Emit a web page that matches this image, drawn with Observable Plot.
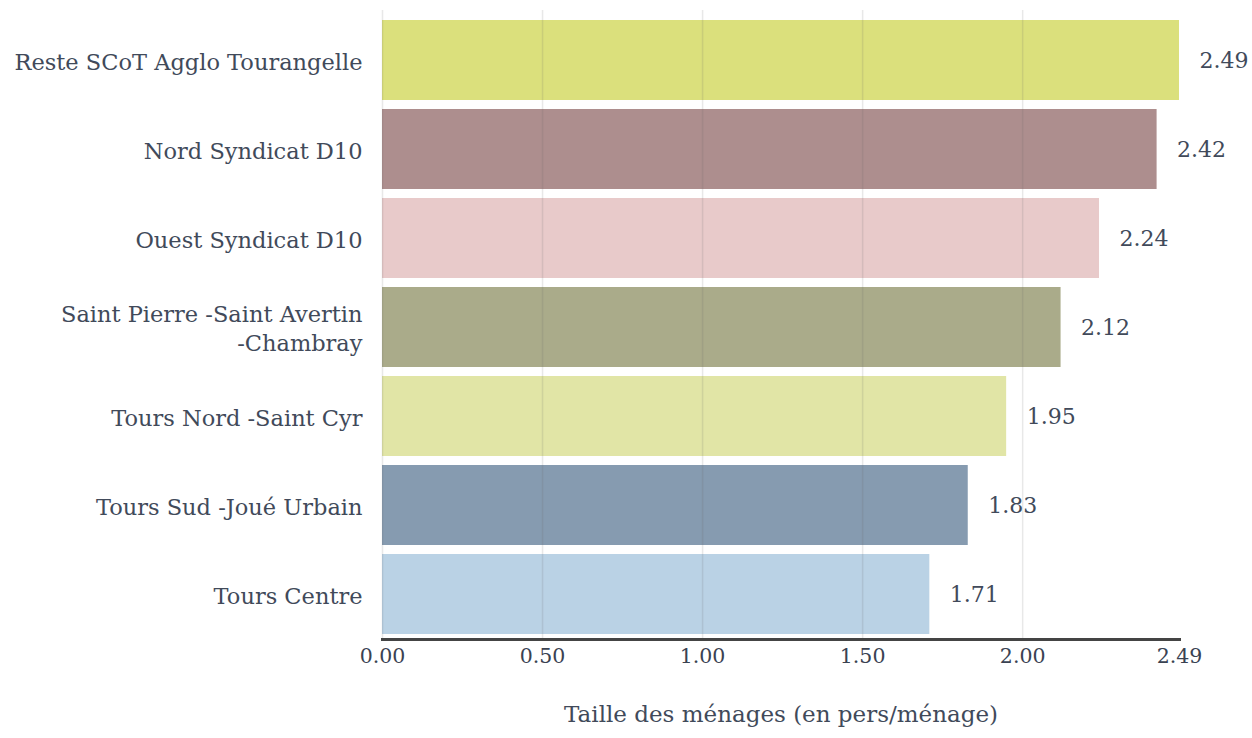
<!DOCTYPE html>
<html>
<head>
<meta charset="utf-8">
<script src="https://cdn.jsdelivr.net/npm/d3@7"></script>
<script src="https://cdn.jsdelivr.net/npm/@observablehq/plot@0.6"></script>
<style>
  html, body { margin: 0; padding: 0; background: #fff; }
  #chart svg { display: block; }
</style>
</head>
<body>
<div id="chart"></div>
<script>
const categories = [
  "Reste SCoT Agglo Tourangelle",
  "Nord Syndicat D10",
  "Ouest Syndicat D10",
  "Saint Pierre -Saint Avertin\n-Chambray",
  "Tours Nord -Saint Cyr",
  "Tours Sud -Joué Urbain",
  "Tours Centre"
];
const values = [2.49, 2.42, 2.24, 2.12, 1.95, 1.83, 1.71];
const colors = ["#dbe07c", "#ad8e8e", "#e8caca", "#aaab8a", "#e1e5a6", "#869bb0", "#bad2e5"];
const xTicks = [0, 0.5, 1, 1.5, 2, 2.49];
const xLabel = "Taille des ménages (en pers/ménage)";

const data = categories.map((c, i) => ({ cat: c, value: values[i], color: colors[i] }));
const fmt = d3.format(".2f");
const font = "'DejaVu Serif', 'Liberation Serif', serif";
const ink = "#414a5a";

const chart = Plot.plot({
  width: 1252,
  height: 738,
  marginLeft: 382,
  marginRight: 73,
  marginTop: 15,
  marginBottom: 99,
  style: { fontFamily: font, color: ink, background: "#fff" },
  x: { domain: [0, 2.49] },
  y: { domain: categories, paddingInner: 0.1, paddingOuter: 0.04 },
  marks: [
    Plot.barX(data, { x: "value", y: "cat", fill: "color", fillOpacity: 1 }),
    Plot.gridX(xTicks.slice(0, 5), { stroke: "#666", strokeOpacity: 0.15, strokeWidth: 1.5, insetTop: -5 }),
    Plot.text(data, { x: "value", y: "cat", text: d => fmt(d.value), dx: 20, textAnchor: "start", fontSize: 22, fill: ink }),
    Plot.axisY({ tickSize: 0, tickPadding: 20, fontSize: 22.5, fill: ink, label: null, lineHeight: 1.25 }),
    Plot.axisX({ ticks: xTicks, tickFormat: fmt, tickSize: 0, tickPadding: 9, fontSize: 20.5, fill: "#3a4252", stroke: "#3a4252", strokeWidth: 0.3, label: null }),
    Plot.frame({ anchor: "bottom", stroke: "#444", strokeWidth: 3 }),
    Plot.text([xLabel], { frameAnchor: "bottom", dy: 82, fontSize: 23, fill: ink })
  ]
});
document.getElementById("chart").appendChild(chart);
</script>
</body>
</html>
